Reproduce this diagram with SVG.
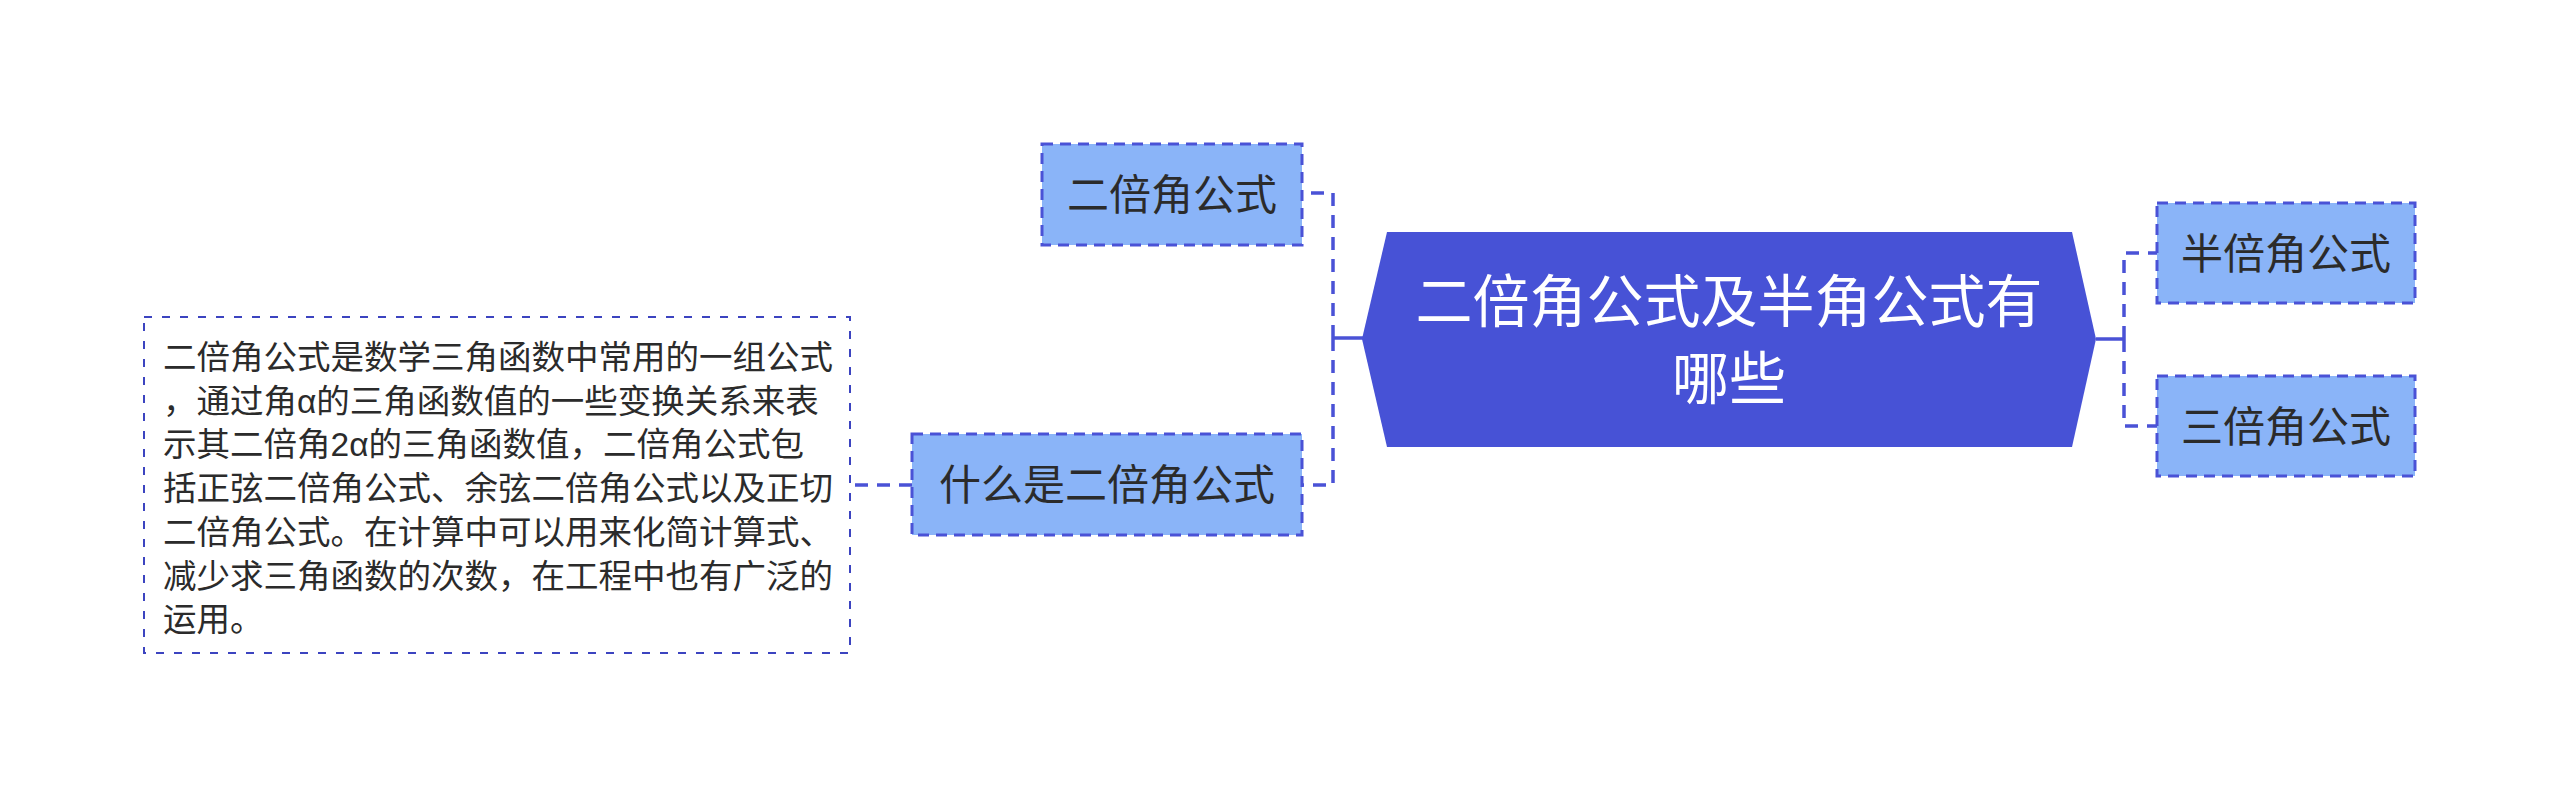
<svg xmlns="http://www.w3.org/2000/svg" width="2560" height="797" viewBox="0 0 2560 797">
<style>
.sub rect{fill:#8ab4f8;stroke:#4a52d6;stroke-width:3;stroke-dasharray:11 7}
.sub text{font-family:"Noto Sans CJK SC","Noto Sans",sans-serif;font-size:42px;fill:#2b2b2b;text-anchor:middle}
.conn{fill:none;stroke:#4a52d6;stroke-width:3.5}
.dash{stroke-dasharray:13 9}
.detail rect{fill:#ffffff;stroke:#3c44c0;stroke-width:2;stroke-dasharray:8 10}
.detail text{font-family:"Liberation Sans","Noto Sans CJK SC",sans-serif;font-size:33.5px;fill:#2b2b2b}
</style>
<rect width="2560" height="797" fill="#ffffff"/>
<g id="connectors">
<path class="conn" d="M1333,338 H1363"/>
<path class="conn dash" d="M1333,338 V193 H1302"/>
<path class="conn dash" d="M1333,338 V485 H1302"/>
<path class="conn" d="M2096,339 H2124"/>
<path class="conn dash" d="M2124,339 V253 H2157"/>
<path class="conn dash" d="M2124,339 V426 H2157"/>
<path class="conn dash" d="M912,485 H850"/>
</g>
<g id="root">
<polygon points="1387,232 2072,232 2096,339 2072,447 1387,447 1362,339" fill="#4752d6"/>
<text font-family="Noto Sans CJK SC, Noto Sans, sans-serif" font-size="57" fill="#ffffff" text-anchor="middle"><tspan x="1729" y="322">二倍角公式及半角公式有</tspan><tspan x="1729" y="399">哪些</tspan></text>
</g>
<g id="node-erbei" class="sub">
<rect x="1042" y="144" width="260" height="101"/>
<text x="1172" y="210">二倍角公式</text>
</g>
<g id="node-shenme" class="sub">
<rect x="912" y="434" width="390" height="101"/>
<text x="1107" y="500">什么是二倍角公式</text>
</g>
<g id="node-banbei" class="sub">
<rect x="2157" y="203" width="258" height="100"/>
<text x="2286" y="269">半倍角公式</text>
</g>
<g id="node-sanbei" class="sub">
<rect x="2157" y="376" width="258" height="100"/>
<text x="2286" y="442">三倍角公式</text>
</g>
<g id="node-detail" class="detail">
<rect x="144" y="317" width="706" height="336"/>
<text><tspan x="163" y="369">二倍角公式是数学三角函数中常用的一组公式</tspan><tspan x="163" y="412.7">，通过角α的三角函数值的一些变换关系来表</tspan><tspan x="163" y="456.4">示其二倍角2α的三角函数值，二倍角公式包</tspan><tspan x="163" y="500.1">括正弦二倍角公式、余弦二倍角公式以及正切</tspan><tspan x="163" y="543.8">二倍角公式。在计算中可以用来化简计算式、</tspan><tspan x="163" y="587.5">减少求三角函数的次数，在工程中也有广泛的</tspan><tspan x="163" y="631.2">运用。</tspan></text>
</g>
</svg>
